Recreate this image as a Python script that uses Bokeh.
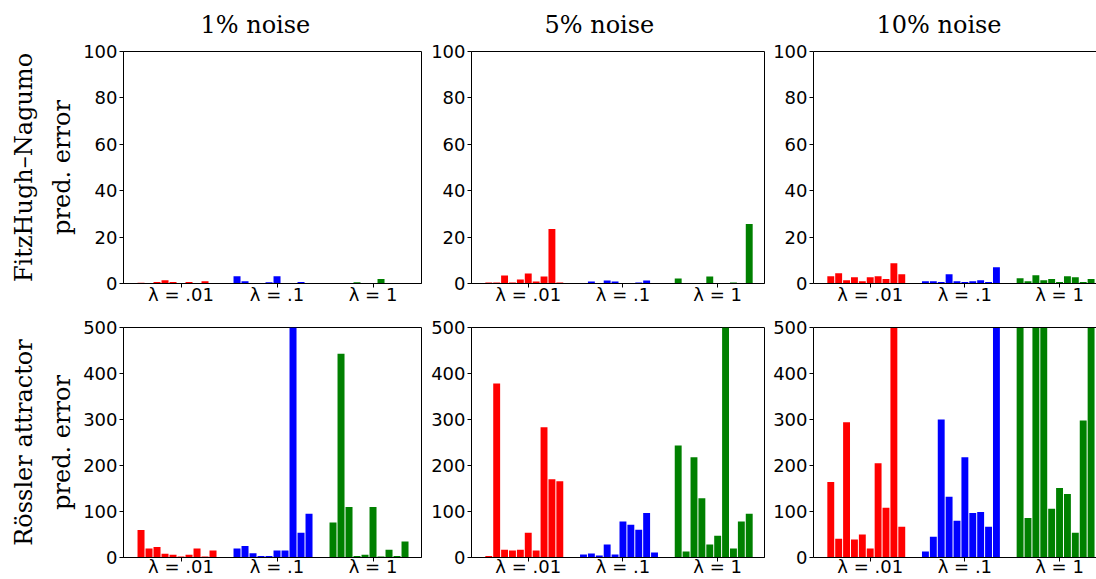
import numpy as np
from bokeh.plotting import figure
from bokeh.layouts import column, row
from bokeh.models import FixedTicker, LinearAxis, Range1d, ColumnDataSource
from bokeh.embed import file_html
from bokeh.resources import INLINE

# ---------------- data ----------------
noise_titles = ["1% noise", "5% noise", "10% noise"]
row_titles = [("FitzHugh–Nagumo", "pred. error"), ("Rössler attractor", "pred. error")]
lambda_labels = ["λ = .01", "λ = .1", "λ = 1"]
group_colors = ["#ff0000", "#0000ff", "#008000"]

# FitzHugh–Nagumo prediction error (lambda = .01, .1, 1), 10 runs each
fhn_1_red = [0.3, 0.2, 0.6, 1.4, 0.6, 0.2, 0.6, 0.1, 1.0, 0.1]
fhn_1_blue = [3.1, 1.0, 0.1, 0.1, 0.5, 3.1, 0.2, 0.1, 0.6, 0.1]
fhn_1_green = [0.05, 0.1, 0.1, 0.5, 0.1, 0.1, 1.9, 0.1, 0.1, 0.1]

fhn_5_red = [0.4, 0.4, 3.5, 0.4, 1.7, 4.3, 0.9, 3.0, 23.5, 0.4]
fhn_5_blue = [0.1, 0.9, 0.1, 1.3, 0.9, 0.1, 0.1, 0.4, 1.3, 0.1]
fhn_5_green = [2.2, 0.1, 0.1, 0.1, 3.0, 0.1, 0.1, 0.4, 0.1, 25.7]

fhn_10_red = [3.1, 4.4, 1.4, 2.7, 1.0, 2.7, 3.1, 1.9, 8.7, 4.0]
fhn_10_blue = [1.0, 1.0, 0.6, 4.0, 1.0, 0.6, 1.0, 1.4, 0.6, 7.0]
fhn_10_green = [2.3, 1.0, 3.6, 1.4, 1.9, 0.6, 3.1, 2.7, 0.6, 1.9]

# Rössler attractor prediction error
ros_1_red = [60, 19.5, 23, 8, 6, 2, 6, 19.5, 2, 15]
ros_1_blue = [19.5, 25, 9, 3.5, 3.5, 15, 15, 500, 54, 95]
ros_1_green = [76, 443, 110, 3.5, 6, 110, 2, 17, 3.5, 35]

ros_5_red = [3.5, 378, 17, 15, 17, 54, 15, 283, 170, 166]
ros_5_blue = [6.5, 8.6, 4.3, 28, 6.5, 78, 71, 60.5, 97, 11]
ros_5_green = [243.5, 13, 218, 129, 28, 47.5, 500, 19.5, 78, 95]

ros_10_red = [164, 41, 294, 39, 50, 19.5, 205, 108, 500, 67]
ros_10_blue = [13, 45, 300, 132, 80, 218, 97, 99, 67, 500]
ros_10_green = [500, 86, 500, 500, 106, 151, 138, 54, 298, 500]

fhn_yticks = [0, 20, 40, 60, 80, 100]
ros_yticks = [0, 100, 200, 300, 400, 500]

panels = [
    [[fhn_1_red, fhn_1_blue, fhn_1_green],
     [fhn_5_red, fhn_5_blue, fhn_5_green],
     [fhn_10_red, fhn_10_blue, fhn_10_green]],
    [[ros_1_red, ros_1_blue, ros_1_green],
     [ros_5_red, ros_5_blue, ros_5_green],
     [ros_10_red, ros_10_blue, ros_10_green]],
]
row_ymax = [100, 500]
row_ticks = [fhn_yticks, ros_yticks]

# ---------------- layout ----------------
ROW_H = [307, 272]
ROW_TOP = [51, 20]
ROW_BOTTOM = [24, 22]
XLAB_STANDOFF = [-4, -6]
COLS = [dict(width=428, left=123, right=7),
        dict(width=342, left=39, right=6),
        dict(width=326, left=39, right=0)]
X0 = -2.19
UPP = 37.25 / 298.0  # data units per pixel
GROUP_STEP = 12
TICK_OFFSET = 5
BAR_W = 0.875
TITLE_OFFSET = [77, 73, 63]


def style_axis(ax, standoff):
    ax.axis_line_color = "black"
    ax.axis_line_width = 1
    ax.major_tick_line_color = "black"
    ax.major_tick_in = 0
    ax.major_tick_out = 4
    ax.minor_tick_line_color = None
    ax.minor_tick_out = 0
    ax.minor_tick_in = 0
    ax.major_label_text_font = "DejaVu Sans"
    ax.major_label_text_font_size = "18px"
    ax.major_label_text_color = "black"
    ax.major_label_standoff = standoff


def label_axis(text, standoff):
    return LinearAxis(ticker=FixedTicker(ticks=[]), axis_line_color=None,
                      major_tick_line_color=None, minor_tick_line_color=None,
                      major_tick_in=0, major_tick_out=0, minor_tick_in=0, minor_tick_out=0,
                      major_label_standoff=0,
                      axis_label=text, axis_label_standoff=standoff,
                      axis_label_text_font="DejaVu Serif",
                      axis_label_text_font_size="24px",
                      axis_label_text_font_style="normal",
                      axis_label_text_color="black")


rows = []
for r in range(2):
    figs = []
    for c in range(3):
        cs = COLS[c]
        fw = cs["width"] - cs["left"] - cs["right"]
        p = figure(width=cs["width"], height=ROW_H[r], output_backend="svg",
                   toolbar_location=None, tools="",
                   x_range=Range1d(X0, X0 + fw * UPP), y_range=Range1d(0, row_ymax[r]),
                   min_border_left=cs["left"], min_border_right=cs["right"],
                   min_border_top=ROW_TOP[r], min_border_bottom=ROW_BOTTOM[r])
        xs, tops, cols = [], [], []
        for g, vals in enumerate(panels[r][c]):
            for i, v in enumerate(vals):
                xs.append(g * GROUP_STEP + i)
                tops.append(v)
                cols.append(group_colors[g])
        src = ColumnDataSource(dict(x=xs, top=tops, color=cols))
        p.vbar(x="x", top="top", bottom=0, width=BAR_W, source=src,
               fill_color="color", line_color=None)
        p.xgrid.visible = False
        p.ygrid.visible = False
        style_axis(p.xaxis[0], XLAB_STANDOFF[r])
        style_axis(p.yaxis[0], 2)
        tick_pos = [g * GROUP_STEP + TICK_OFFSET for g in range(3)]
        p.xaxis.ticker = FixedTicker(ticks=tick_pos)
        p.xaxis.major_label_overrides = {t: lab for t, lab in zip(tick_pos, lambda_labels)}
        p.yaxis.ticker = FixedTicker(ticks=row_ticks[r])
        p.background_fill_color = "white"
        p.border_fill_color = "white"
        if r == 0:
            p.title.text = noise_titles[c]
            p.title.align = "left"
            p.title.vertical_align = "top"
            p.title.text_font = "DejaVu Serif"
            p.title.text_font_size = "24px"
            p.title.text_font_style = "normal"
            p.title.text_color = "black"
            p.title.standoff = 21
            p.title.offset = TITLE_OFFSET[c]
        if c == 2:
            p.outline_line_color = None
            top_axis = LinearAxis(ticker=FixedTicker(ticks=[]), axis_line_color="black",
                                  major_tick_line_color=None, minor_tick_line_color=None,
                                  major_tick_in=0, major_tick_out=0,
                                  minor_tick_in=0, minor_tick_out=0,
                                  major_label_standoff=0)
            p.add_layout(top_axis, "above")
            p.above = [top_axis] + [a for a in p.above if a is not top_axis]
        else:
            p.outline_line_color = "black"
            p.outline_line_alpha = 1.0
            p.outline_line_width = 1
        if c == 0:
            line1, line2 = row_titles[r]
            p.add_layout(label_axis(line2, 5), "left")
            p.add_layout(label_axis(line1, 7), "left")
        figs.append(p)
    rows.append(row(*figs))

layout = column(*rows)
open("out.html", "w").write(file_html(layout, INLINE))
